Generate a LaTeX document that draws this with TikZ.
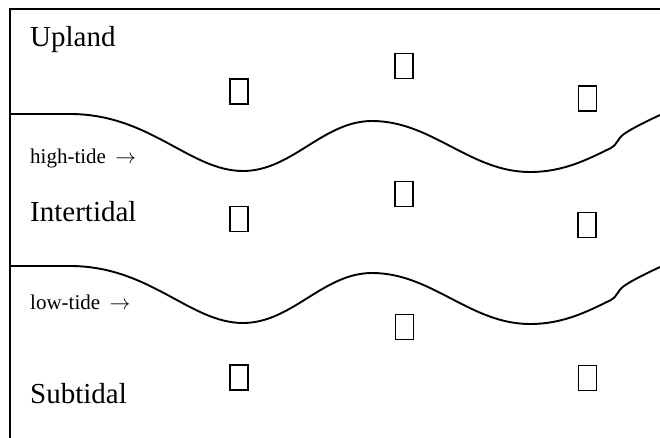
\documentclass[tikz,border=0pt]{standalone}
\usepackage{fontspec}
\setmainfont{Liberation Serif}
\begin{document}
\begin{tikzpicture}[x=1pt,y=-1pt,
  quadrat/.style={draw,line width=1.6pt,minimum width=18pt,minimum height=25pt,inner sep=0pt},
  biglabel/.style={anchor=base west,inner sep=0pt,font=\fontsize{29}{32}\selectfont},
  smalllabel/.style={anchor=base west,inner sep=0pt,font=\fontsize{21}{24}\selectfont},
  wave/.style={line width=1.9pt},
  frame/.style={line width=1.6pt}]
\useasboundingbox (0,0) rectangle (660,438);
% frame
\coordinate (fbl) at (10,438);
\coordinate (ftl) at (10,9);
\coordinate (ftr) at (660,9);
\draw[frame] (fbl) -- (ftl) -- (ftr);
% shorelines
\draw[wave] (10,114) -- (70,114) .. controls (150,114) and (190,171) .. (243,171)
  .. controls (292,171) and (323,121) .. (372,121)
  .. controls (432,121) and (470,172) .. (530,172)
  .. controls (565,172) and (590,158) .. (611,148)
  .. controls (617,145) and (617,139) .. (624,134)
  .. controls (631,129) and (645,122) .. (660,115);
\begin{scope}[shift={(0,152)}]
\draw[wave] (10,114) -- (70,114) .. controls (150,114) and (190,171) .. (243,171)
  .. controls (292,171) and (323,121) .. (372,121)
  .. controls (432,121) and (470,172) .. (530,172)
  .. controls (565,172) and (590,158) .. (611,148)
  .. controls (617,145) and (617,139) .. (624,134)
  .. controls (631,129) and (645,122) .. (660,115);
\end{scope}
% labels
\node[biglabel] (upland) at (30,47) {Upland};
\node[smalllabel] (high) at (30,164) {high-tide\hspace{0.45em}$\rightarrow$};
\node[biglabel] (inter) at (30,222) {Intertidal};
\node[smalllabel] (low) at (30,309) {low-tide\hspace{0.45em}$\rightarrow$};
\node[biglabel] (sub) at (30,403) {Subtidal};
% quadrats
\node[quadrat] (b1) at (239,91.5) {};
\node[quadrat] (b2) at (404,66) {};
\node[quadrat] (b3) at (587.5,98.5) {};
\node[quadrat] (b4) at (239,219) {};
\node[quadrat] (b5) at (404,194) {};
\node[quadrat] (b6) at (587,225) {};
\node[quadrat] (b7) at (404.5,327) {};
\node[quadrat] (b8) at (239,377.5) {};
\node[quadrat] (b9) at (587.5,378) {};
\end{tikzpicture}
\end{document}
